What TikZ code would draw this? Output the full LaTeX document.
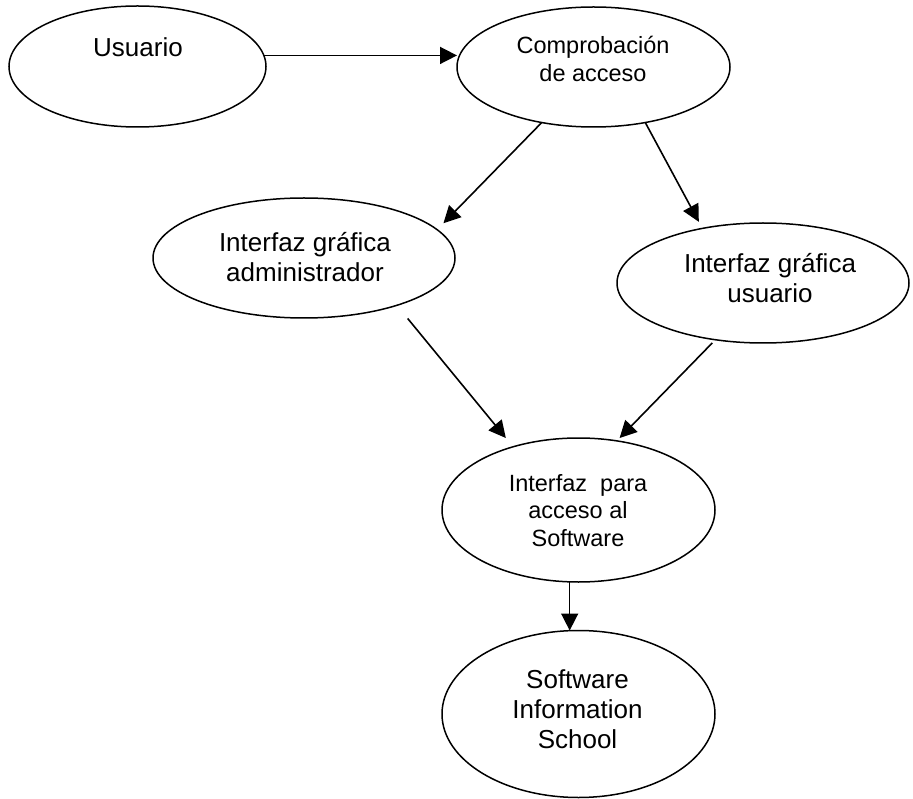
\documentclass[tikz,border=0pt]{standalone}
\usepackage{fontspec}
\setmainfont{Liberation Sans}
\usetikzlibrary{shapes.geometric,arrows.meta}

\tikzset{
  bubble/.style={ellipse, draw, line width=1.5pt, inner sep=0pt, outer sep=0pt},
  caption/.style={anchor=base, inner sep=0pt, outer sep=0pt},
  big/.style={font=\fontsize{26}{30}\selectfont},
  small/.style={font=\fontsize{23.5}{27.5}\selectfont},
  flow/.style={line width=1.6pt, -{Triangle[length=17pt,width=17pt]}}
}
\newcommand{\lines}[1]{\begin{tabular}[t]{@{}c@{}}#1\end{tabular}}

\begin{document}
\begin{tikzpicture}[x=1pt,y=-1pt]
  \useasboundingbox (0,0) rectangle (913,799);

  % ellipses
  \node[bubble, minimum width=257pt, minimum height=121pt] (usr)  at (137.5,66.5) {};
  \node[bubble, minimum width=273pt, minimum height=120pt] (cmp)  at (593.5,67)   {};
  \node[bubble, minimum width=302pt, minimum height=120pt] (adm)  at (304,258)    {};
  \node[bubble, minimum width=292pt, minimum height=120pt] (gui)  at (763,283)    {};
  \node[bubble, minimum width=273pt, minimum height=144pt] (ifz)  at (578.5,510)  {};
  \node[bubble, minimum width=273pt, minimum height=167pt] (sw)   at (578.5,714)  {};

  % labels
  \node[caption, big]   (tusr) at (138,57)    {Usuario};
  \node[caption, small] (tcmp) at (593,54)    {\lines{Comprobación\\de acceso}};
  \node[caption, big]   (tadm) at (305,252)   {\lines{Interfaz gráfica\\administrador}};
  \node[caption, big]   (tgui) at (770,273)   {\lines{Interfaz gráfica\\usuario}};
  \node[caption, small] (tifz) at (578,491)   {\lines{Interfaz\ \ para\\acceso al\\Software}};
  \node[caption, big]   (tsw)  at (577.5,688) {\lines{Software\\Information\\School}};

  % connectors
  \draw[flow] (usr.5.2) -- (usr.5.2 -| cmp.west);
  \draw[flow, shorten >=9pt] (cmp.227.2) -- (adm.12.7);
  \draw[flow, shorten >=7.5pt] (cmp.313.3) -- (gui.138.6);
  \draw[flow, shorten <=17pt, shorten >=11.4pt] (adm.333.7) -- (ifz.136.2);
  \draw[flow, shorten <=4.5pt, shorten >=4pt] (gui.230.5) -- (ifz.61.7);
  \draw[flow] (ifz.263.3) -- (ifz.263.3 |- sw.north);
\end{tikzpicture}
\end{document}
